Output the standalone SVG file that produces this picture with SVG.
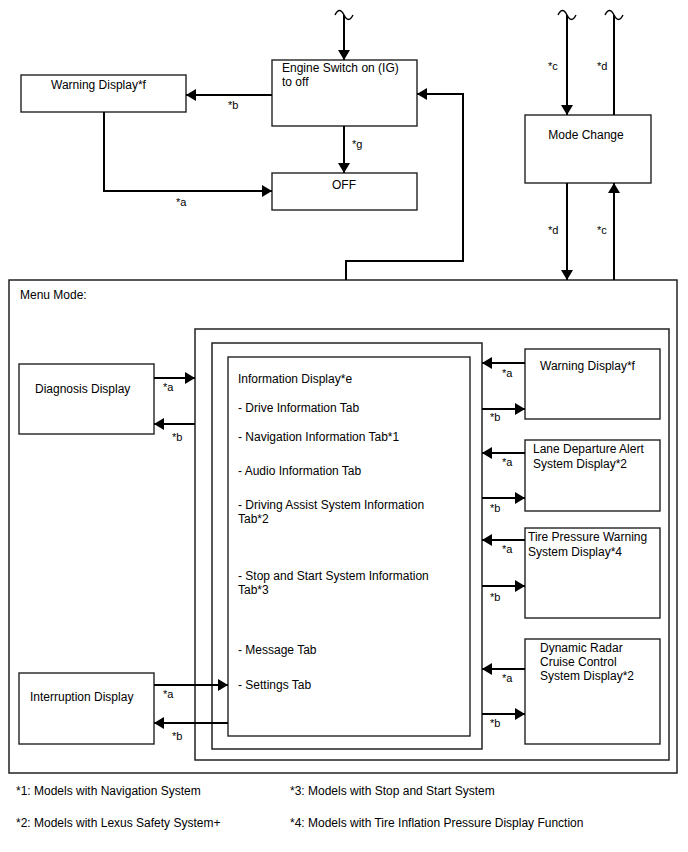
<svg xmlns="http://www.w3.org/2000/svg" width="688" height="852" viewBox="0 0 688 852">
<style>
.box{fill:#fff;stroke:#222;stroke-width:1.4}
.frame{fill:none;stroke:#222;stroke-width:1.5}
.ln{fill:none;stroke:#000;stroke-width:2}
.tl{fill:none;stroke:#000;stroke-width:1.4}
text{font-family:"Liberation Sans",Arial,sans-serif;font-size:12px;fill:#000}
.lb{font-size:11px}
</style>
<defs>
<marker id="ah" viewBox="0 0 10 12" refX="10" refY="6" markerWidth="5" markerHeight="6" orient="auto" markerUnits="strokeWidth">
<path d="M0,0 L10,6 L0,12 z" fill="#000"/>
</marker>
</defs>
<rect width="688" height="852" fill="#fff"/>
<g id="menu-mode"><rect class="frame" x="9" y="280" width="668" height="493"/><text x="20" y="299">Menu Mode:</text></g>
<g id="frame1"><rect class="frame" x="195" y="329" width="474" height="431"/></g>
<g id="frame2"><rect class="frame" x="212" y="343" width="270" height="406"/></g>
<g id="info-display"><rect class="box" x="228" y="357" width="242" height="379"/>
<text x="238" y="383">Information Display*e</text>
<text x="238" y="412">- Drive Information Tab</text>
<text x="238" y="441">- Navigation Information Tab*1</text>
<text x="238" y="475">- Audio Information Tab</text>
<text x="238" y="509">- Driving Assist System Information</text>
<text x="238" y="523">Tab*2</text>
<text x="238" y="580">- Stop and Start System Information</text>
<text x="238" y="594">Tab*3</text>
<text x="238" y="654">- Message Tab</text>
<text x="238" y="689">- Settings Tab</text>
</g>
<g id="warning-top"><rect class="box" x="21" y="75" width="165" height="37"/><text x="51" y="89">Warning Display*f</text></g>
<g id="engine-switch"><rect class="box" x="272" y="60" width="145" height="66"/><text x="282" y="72">Engine Switch on (IG)</text><text x="282" y="86">to off</text></g>
<g id="off"><rect class="box" x="272" y="173" width="145" height="37"/><text x="344" y="189" text-anchor="middle">OFF</text></g>
<g id="mode-change"><rect class="box" x="525" y="115" width="126" height="68"/><text x="586" y="139" text-anchor="middle">Mode Change</text></g>
<g id="diagnosis"><rect class="box" x="19" y="364" width="135" height="70"/><text x="35" y="393">Diagnosis Display</text></g>
<g id="interruption"><rect class="box" x="19" y="673" width="135" height="71"/><text x="30" y="701">Interruption Display</text></g>
<g id="warning-right"><rect class="box" x="525" y="349" width="135" height="70"/><text x="540" y="370">Warning Display*f</text></g>
<g id="lane-departure"><rect class="box" x="525" y="440" width="135" height="71"/><text x="533" y="453">Lane Departure Alert</text><text x="533" y="468">System Display*2</text></g>
<g id="tire-pressure"><rect class="box" x="525" y="528" width="135" height="90"/><text x="528" y="541">Tire Pressure Warning</text><text x="528" y="556">System Display*4</text></g>
<g id="radar-cruise"><rect class="box" x="525" y="639" width="135" height="105"/><text x="540" y="652">Dynamic Radar</text><text x="540" y="666">Cruise Control</text><text x="540" y="680">System Display*2</text></g>
<g id="connectors">
<path class="tl" d="M335,15 c3,-6 6,-6 9,0 s6,6 9,0"/>
<path class="tl" d="M558,15 c3,-6 6,-6 9,0 s6,6 9,0"/>
<path class="tl" d="M605,15 c3,-6 6,-6 9,0 s6,6 9,0"/>
<path class="ln" d="M344,15 V60" marker-end="url(#ah)"/>
<path class="ln" d="M272,95 H186" marker-end="url(#ah)"/>
<path class="ln" d="M104,112 V191 H272" marker-end="url(#ah)"/>
<path class="ln" d="M344,126 V173" marker-end="url(#ah)"/>
<path class="ln" d="M346,280 V261 H463 V94 H417" marker-end="url(#ah)"/>
<path class="ln" d="M567,15 V115" marker-end="url(#ah)"/>
<path class="ln" d="M614,115 V15"/>
<path class="ln" d="M567,183 V280" marker-end="url(#ah)"/>
<path class="ln" d="M614,280 V183" marker-end="url(#ah)"/>
<path class="ln" d="M154,378 H195" marker-end="url(#ah)"/>
<path class="ln" d="M195,424 H154" marker-end="url(#ah)"/>
<path class="ln" d="M154,685 H228" marker-end="url(#ah)"/>
<path class="ln" d="M228,723 H154" marker-end="url(#ah)"/>
<path class="ln" d="M525,363 H482" marker-end="url(#ah)"/>
<path class="ln" d="M482,409 H525" marker-end="url(#ah)"/>
<path class="ln" d="M525,453 H482" marker-end="url(#ah)"/>
<path class="ln" d="M482,498 H525" marker-end="url(#ah)"/>
<path class="ln" d="M525,540 H482" marker-end="url(#ah)"/>
<path class="ln" d="M482,586 H525" marker-end="url(#ah)"/>
<path class="ln" d="M525,669 H482" marker-end="url(#ah)"/>
<path class="ln" d="M482,714 H525" marker-end="url(#ah)"/>
<text class="lb" x="228" y="109">*b</text>
<text class="lb" x="176" y="206">*a</text>
<text class="lb" x="352" y="148">*g</text>
<text class="lb" x="548" y="70">*c</text>
<text class="lb" x="597" y="70">*d</text>
<text class="lb" x="548" y="234">*d</text>
<text class="lb" x="597" y="234">*c</text>
<text class="lb" x="163" y="391">*a</text>
<text class="lb" x="172" y="441">*b</text>
<text class="lb" x="163" y="698">*a</text>
<text class="lb" x="172" y="740">*b</text>
<text class="lb" x="502" y="377">*a</text>
<text class="lb" x="490" y="421">*b</text>
<text class="lb" x="502" y="466">*a</text>
<text class="lb" x="490" y="512">*b</text>
<text class="lb" x="502" y="553">*a</text>
<text class="lb" x="490" y="601">*b</text>
<text class="lb" x="502" y="682">*a</text>
<text class="lb" x="490" y="727">*b</text>
</g>
<g id="footnotes">
<text x="16" y="795">*1: Models with Navigation System</text>
<text x="16" y="827">*2: Models with Lexus Safety System+</text>
<text x="290" y="795">*3: Models with Stop and Start System</text>
<text x="290" y="827">*4: Models with Tire Inflation Pressure Display Function</text>
</g>
</svg>
